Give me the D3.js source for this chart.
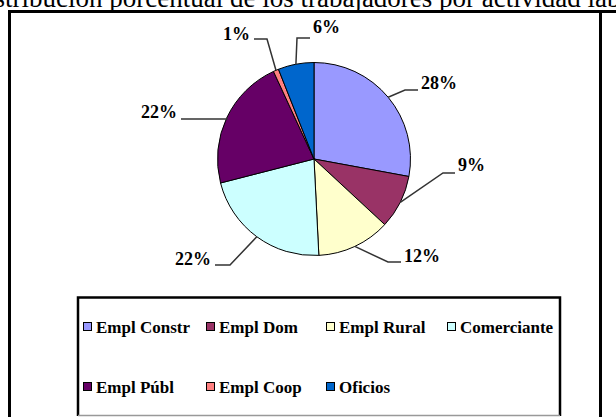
<!DOCTYPE html>
<html><head><meta charset="utf-8">
<script src="https://cdn.jsdelivr.net/npm/d3@7"></script>
<style>
html,body{margin:0;padding:0;background:#fff;overflow:hidden}
svg{display:block}
</style></head>
<body>
<svg id="chart" width="616" height="417"></svg>
<script>
const title = "Distribución porcentual de los trabajadores por actividad laboral";
const categories = ["Empl Constr","Empl Dom","Empl Rural","Comerciante","Empl Públ","Empl Coop","Oficios"];
const values = [27.9, 9.0, 12.3, 21.8, 22.1, 0.9, 6.0];
const colors = ["#9999FF","#993366","#FFFFCC","#CCFFFF","#660066","#FF8080","#0066CC"];
// label leader layout (elbow offset from centre, horizontal run, text baseline shift)
const labelElbow = [[91,-69],[129,14],[74,103],[-84,106],[-87,-40],[-47,-120],[-17,-121]];
const labelRun = [13,12,13,-15,-46,-13,13];
const labelShift = [-1,-2,0,0,-1,1,-5];

const svg = d3.select("#chart");
const font = "'Liberation Serif','Times New Roman',serif";

// title (the reference shows it cropped at the top edge)
svg.append("text").attr("x",315).attr("y",7).attr("text-anchor","middle")
  .attr("font-family",font).attr("font-size",27).attr("fill","#000").text(title);

// outer frame
svg.append("line").attr("x1",8).attr("x2",616).attr("y1",11.5).attr("y2",11.5).attr("stroke","#000").attr("stroke-width",3);
svg.append("line").attr("x1",9.5).attr("x2",9.5).attr("y1",10).attr("y2",417).attr("stroke","#000").attr("stroke-width",3);
svg.append("line").attr("x1",600.5).attr("x2",600.5).attr("y1",10).attr("y2",417).attr("stroke","#000").attr("stroke-width",3);

const cx = 314, cy = 159, r = 96.5;
const pie = d3.pie().sort(null).value(d=>d)(values);
const arc = d3.arc().innerRadius(0).outerRadius(r);
const g = svg.append("g").attr("transform",`translate(${cx},${cy})`);
g.selectAll("path").data(pie).join("path")
  .attr("d",arc).attr("fill",(d,i)=>colors[i]).attr("stroke","#000").attr("stroke-width",1);

// labels with leader lines
pie.forEach((d,i)=>{
  const a = (d.startAngle+d.endAngle)/2;
  const sx = Math.sin(a)*r, sy = -Math.cos(a)*r;
  const [ex,ey] = labelElbow[i];
  const hx = ex + labelRun[i];
  g.append("polyline").attr("points",`${sx},${sy} ${ex},${ey} ${hx},${ey}`)
    .attr("fill","none").attr("stroke","#333").attr("stroke-width",1.5);
  const right = labelRun[i] > 0;
  g.append("text").attr("x", hx + (right?3:-4)).attr("y", ey + labelShift[i])
    .attr("text-anchor", right?"start":"end")
    .attr("font-family",font).attr("font-weight","bold").attr("font-size",18)
    .attr("fill","#000").text(Math.round(d.data)+"%");
});

// legend box
const lg = svg.append("g");
lg.append("path").attr("d","M78,416 L78,297.5 L560,297.5 L560,416")
  .attr("fill","none").attr("stroke","#000").attr("stroke-width",2.5);
lg.append("line").attr("x1",78).attr("x2",560).attr("y1",415.5).attr("y2",415.5).attr("stroke","#999").attr("stroke-width",1.5);
const colX = [83,206,326,447];
const rowY = [333,393];
categories.forEach((c,i)=>{
  const x = colX[i%4], y = rowY[Math.floor(i/4)];
  lg.append("rect").attr("x",x+0.5).attr("y",y-10.5).attr("width",8).attr("height",8)
    .attr("fill",colors[i]).attr("stroke","#000").attr("stroke-width",1);
  lg.append("text").attr("x",x+13).attr("y",y).attr("font-family",font).attr("font-weight","bold")
    .attr("font-size",17).attr("fill","#000").text(c);
});
</script>
</body></html>
